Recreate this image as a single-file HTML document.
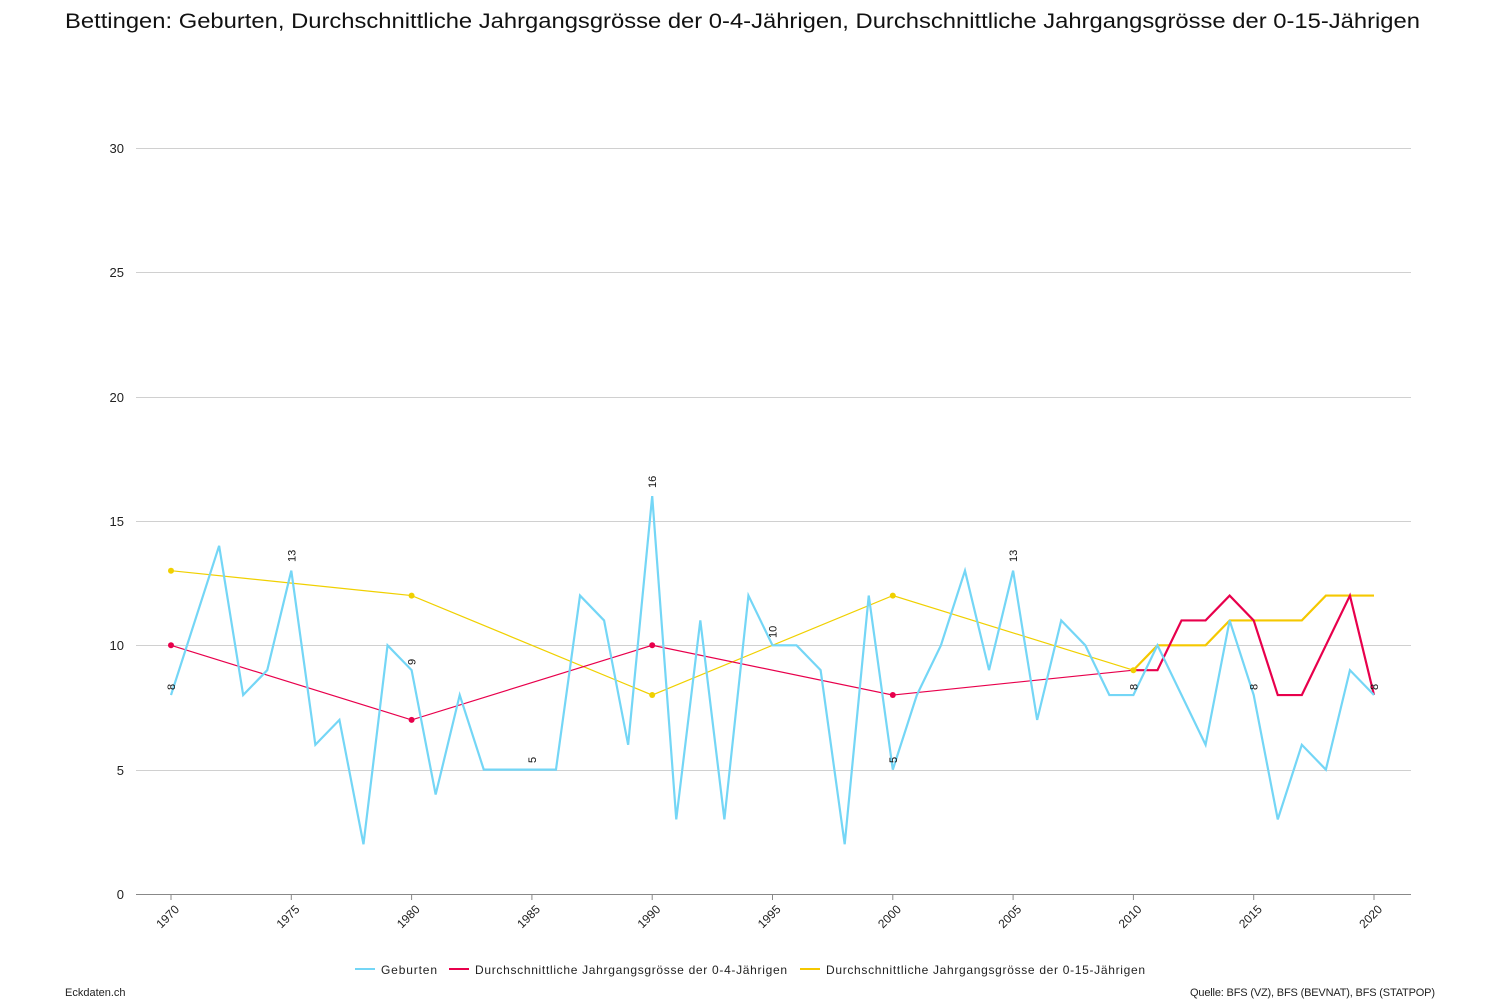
<!DOCTYPE html>
<html><head><meta charset="utf-8"><style>
body{margin:0;background:#fff;font-family:"Liberation Sans",sans-serif;}
</style></head><body>
<svg width="1500" height="1000" xmlns="http://www.w3.org/2000/svg" font-family="Liberation Sans, sans-serif">
<rect width="1500" height="1000" fill="#fff"/>
<text x="65" y="28" font-size="21" fill="#111" textLength="1355" lengthAdjust="spacingAndGlyphs">Bettingen: Geburten, Durchschnittliche Jahrgangsgrösse der 0-4-Jährigen, Durchschnittliche Jahrgangsgrösse der 0-15-Jährigen</text>
<g stroke="#d0d0d0" stroke-width="1">
<line x1="136" x2="1411" y1="148.5" y2="148.5"/>
<line x1="136" x2="1411" y1="272.5" y2="272.5"/>
<line x1="136" x2="1411" y1="397.5" y2="397.5"/>
<line x1="136" x2="1411" y1="521.5" y2="521.5"/>
<line x1="136" x2="1411" y1="645.5" y2="645.5"/>
<line x1="136" x2="1411" y1="770.5" y2="770.5"/>
</g>
<line x1="136" x2="1411" y1="894.5" y2="894.5" stroke="#888" stroke-width="1"/>
<g font-size="13" fill="#222" text-anchor="end">
<text x="124" y="153">30</text><text x="124" y="277">25</text><text x="124" y="402">20</text>
<text x="124" y="526">15</text><text x="124" y="650">10</text><text x="124" y="775">5</text><text x="124" y="899">0</text>
</g>
<g stroke="#888">
<line x1="171" x2="171" y1="894" y2="900"/><line x1="291.3" x2="291.3" y1="894" y2="900"/><line x1="411.6" x2="411.6" y1="894" y2="900"/><line x1="531.9" x2="531.9" y1="894" y2="900"/><line x1="652.2" x2="652.2" y1="894" y2="900"/><line x1="772.5" x2="772.5" y1="894" y2="900"/><line x1="892.8" x2="892.8" y1="894" y2="900"/><line x1="1013.1" x2="1013.1" y1="894" y2="900"/><line x1="1133.4" x2="1133.4" y1="894" y2="900"/><line x1="1253.7" x2="1253.7" y1="894" y2="900"/><line x1="1374" x2="1374" y1="894" y2="900"/>
</g>
<g font-size="12" fill="#222" text-anchor="end">
<text transform="translate(180,910) rotate(-45)">1970</text>
<text transform="translate(300.3,910) rotate(-45)">1975</text>
<text transform="translate(420.6,910) rotate(-45)">1980</text>
<text transform="translate(540.9,910) rotate(-45)">1985</text>
<text transform="translate(661.2,910) rotate(-45)">1990</text>
<text transform="translate(781.5,910) rotate(-45)">1995</text>
<text transform="translate(901.8,910) rotate(-45)">2000</text>
<text transform="translate(1022.1,910) rotate(-45)">2005</text>
<text transform="translate(1142.4,910) rotate(-45)">2010</text>
<text transform="translate(1262.7,910) rotate(-45)">2015</text>
<text transform="translate(1383,910) rotate(-45)">2020</text>
</g>
<g transform="translate(171,894) scale(24.06,-24.87)" fill="none">
<polyline vector-effect="non-scaling-stroke" stroke="#f0d000" stroke-width="1.2" points="0,13 10,12 20,8 30,12 40,9"/>
<polyline vector-effect="non-scaling-stroke" stroke="#f5c800" stroke-width="2.2" points="40,9 41,10 42,10 43,10 44,11 45,11 46,11 47,11 48,12 49,12 50,12"/>
<polyline vector-effect="non-scaling-stroke" stroke="#e8004c" stroke-width="1.2" points="0,10 10,7 20,10 30,8 40,9"/>
<polyline vector-effect="non-scaling-stroke" stroke="#e8004c" stroke-width="2.2" points="40,9 41,9 42,11 43,11 44,12 45,11 46,8 47,8 48,10 49,12 50,8"/>
<polyline vector-effect="non-scaling-stroke" stroke="#74d6f6" stroke-width="2.2" points="0,8 1,11 2,14 3,8 4,9 5,13 6,6 7,7 8,2 9,10 10,9 11,4 12,8 13,5 14,5 15,5 16,5 17,12 18,11 19,6 20,16 21,3 22,11 23,3 24,12 25,10 26,10 27,9 28,2 29,12 30,5 31,8 32,10 33,13 34,9 35,13 36,7 37,11 38,10 39,8 40,8 41,10 42,8 43,6 44,11 45,8 46,3 47,6 48,5 49,9 50,8"/>
</g>
<g fill="#f0d000"><circle cx="171" cy="570.7" r="3"/><circle cx="411.6" cy="595.6" r="3"/><circle cx="652.2" cy="695" r="3"/><circle cx="892.8" cy="595.6" r="3"/><circle cx="1133.4" cy="670.2" r="3"/></g>
<g fill="#e8004c"><circle cx="171" cy="645.3" r="3"/><circle cx="411.6" cy="719.9" r="3"/><circle cx="652.2" cy="645.3" r="3"/><circle cx="892.8" cy="695" r="3"/></g>
<g font-size="11" fill="#111">
<text transform="translate(175,690) rotate(-90)">8</text>
<text transform="translate(295.3,562) rotate(-90)">13</text>
<text transform="translate(415.6,665) rotate(-90)">9</text>
<text transform="translate(535.9,763) rotate(-90)">5</text>
<text transform="translate(656.2,488) rotate(-90)">16</text>
<text transform="translate(776.5,638) rotate(-90)">10</text>
<text transform="translate(896.8,763) rotate(-90)">5</text>
<text transform="translate(1017.1,562) rotate(-90)">13</text>
<text transform="translate(1137.4,690) rotate(-90)">8</text>
<text transform="translate(1257.7,690) rotate(-90)">8</text>
<text transform="translate(1378,690) rotate(-90)">8</text>
</g>
<g font-size="12" fill="#222">
<line x1="355" x2="375" y1="969" y2="969" stroke="#74d6f6" stroke-width="2"/><text x="381" y="974" textLength="56">Geburten</text>
<line x1="449" x2="469" y1="969" y2="969" stroke="#e8004c" stroke-width="2"/><text x="475" y="974" textLength="312">Durchschnittliche Jahrgangsgrösse der 0-4-Jährigen</text>
<line x1="800" x2="820" y1="969" y2="969" stroke="#f5c800" stroke-width="2"/><text x="826" y="974" textLength="319">Durchschnittliche Jahrgangsgrösse der 0-15-Jährigen</text>
</g>
<text x="65" y="996" font-size="11" fill="#222">Eckdaten.ch</text>
<text x="1435" y="996" font-size="11" fill="#222" text-anchor="end" textLength="245">Quelle: BFS (VZ), BFS (BEVNAT), BFS (STATPOP)</text>
</svg>
</body></html>
